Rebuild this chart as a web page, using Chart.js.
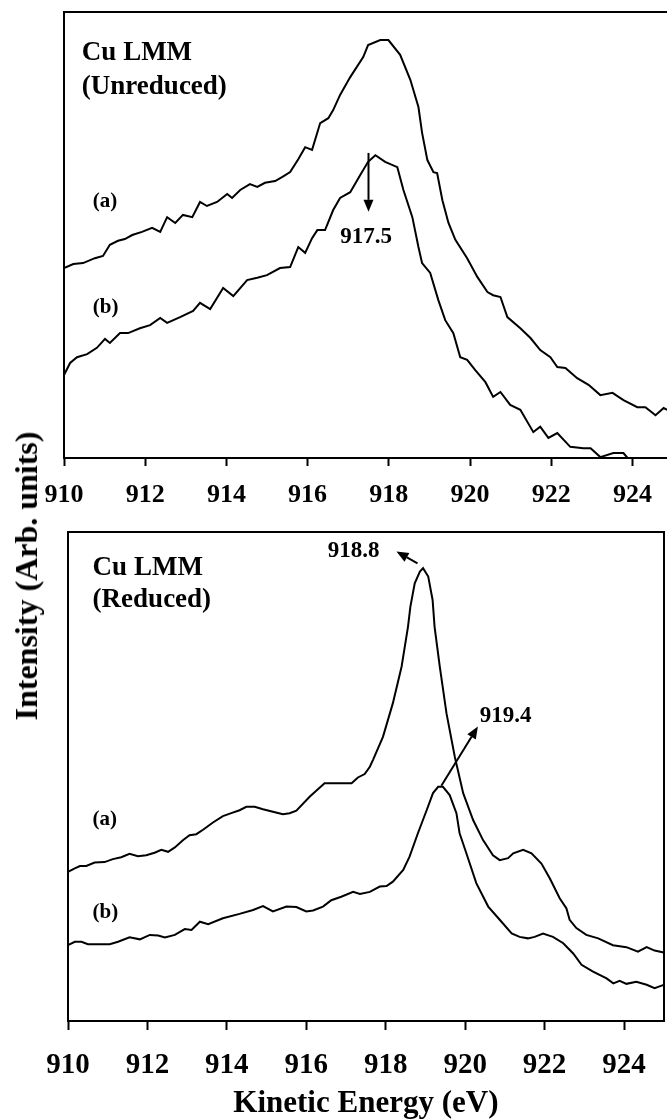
<!DOCTYPE html>
<html>
<head>
<meta charset="utf-8">
<title>Cu LMM</title>
<script src="https://cdn.jsdelivr.net/npm/chart.js@4.4.1/dist/chart.umd.min.js"></script>
<style>
  html, body { margin: 0; padding: 0; background: #fff; overflow: hidden; }
  #page { position: relative; width: 667px; height: 1119px; overflow: hidden; }
  #topWrap { position: absolute; left: 0; top: 0; }
  #botWrap { position: absolute; left: 0; top: 520px; }
  #yTitle {
    position: absolute; left: 26px; top: 576px;
    transform: translate(-50%, -50%) rotate(-90deg);
    font: bold 32px "Liberation Serif", "Times New Roman", serif;
    line-height: 1; white-space: nowrap; color: #000;
  }
</style>
</head>
<body>
<div id="page">
  <div id="topWrap"><canvas id="topChart" width="680" height="530"></canvas></div>
  <div id="botWrap"><canvas id="botChart" width="667" height="599"></canvas></div>
  <div id="yTitle">Intensity (Arb. units)</div>
</div>
<script>
// kinetic energy (eV), intensity (arb. units, 0-100 across the panel)
const unreducedA = [
  [910.00,42.6],[910.23,43.5],[910.47,43.7],[910.76,44.8],[910.96,45.3],[911.13,47.8],[911.33,48.7],
  [911.50,49.1],[911.68,50.0],[911.92,50.7],[912.17,51.6],[912.37,50.7],[912.54,54.0],[912.74,52.7],
  [912.93,54.5],[913.16,54.0],[913.35,57.4],[913.52,56.5],[913.77,57.4],[914.02,59.2],[914.14,58.3],
  [914.34,60.1],[914.58,61.4],[914.76,60.8],[914.95,61.7],[915.20,62.1],[915.37,63.0],[915.57,64.1],
  [915.77,67.0],[915.94,69.7],[916.11,69.1],[916.31,75.1],[916.51,76.2],[916.63,78.0],[916.80,81.4],
  [917.05,85.4],[917.37,89.9],[917.49,92.6],[917.79,93.7],[917.99,93.7],[918.28,90.4],[918.53,84.8],
  [918.73,78.7],[918.82,72.9],[918.95,66.8],[919.10,64.1],[919.19,63.9],[919.32,57.8],[919.47,52.7],
  [919.64,48.9],[919.93,44.8],[920.18,40.6],[920.43,37.2],[920.57,36.5],[920.75,36.1],[920.92,31.6],
  [921.24,29.1],[921.49,26.9],[921.73,24.2],[921.98,22.6],[922.15,20.4],[922.35,20.2],[922.64,17.9],
  [922.92,16.4],[923.21,14.1],[923.51,14.6],[923.78,13.0],[924.12,11.4],[924.32,11.4],[924.57,9.6],
  [924.77,11.2],[924.86,10.8],[925.00,10.4]
];
const unreducedB = [
  [910.00,18.6],[910.15,21.3],[910.32,22.6],[910.57,23.3],[910.81,24.7],[911.01,26.7],[911.13,25.8],
  [911.38,28.0],[911.58,28.0],[911.87,29.1],[912.12,29.8],[912.37,31.4],[912.54,30.3],[912.86,31.6],
  [913.18,33.0],[913.35,34.8],[913.60,33.4],[913.92,38.1],[914.17,36.3],[914.51,39.9],[914.76,40.4],
  [915.00,41.0],[915.32,42.6],[915.57,42.8],[915.77,47.3],[915.94,46.0],[916.11,49.3],[916.24,51.1],
  [916.43,51.1],[916.63,55.6],[916.80,58.3],[917.05,59.6],[917.30,63.5],[917.49,66.4],[917.67,67.9],
  [917.91,66.4],[918.21,65.2],[918.36,60.1],[918.58,54.0],[918.73,47.3],[918.82,43.7],[919.02,41.5],
  [919.22,35.4],[919.39,30.9],[919.59,28.0],[919.76,22.6],[919.93,22.0],[920.13,19.7],[920.38,17.0],
  [920.57,13.7],[920.75,14.8],[920.99,11.9],[921.24,10.8],[921.56,5.8],[921.73,7.0],[921.93,4.5],
  [922.15,5.6],[922.47,2.5],[922.79,2.2],[922.97,2.2],[923.21,0.2],[923.53,1.1],[923.78,1.1],
  [923.88,0.0],[924.20,-2.5],[924.60,-4.5],[925.00,-6.0]
];
const reducedA = [
  [910.00,30.5],[910.17,31.2],[910.30,31.7],[910.46,31.7],[910.67,32.4],[910.92,32.5],[911.13,33.1],
  [911.34,33.5],[911.55,34.2],[911.76,33.7],[911.97,33.9],[912.18,34.4],[912.35,35.0],[912.52,34.6],
  [912.69,35.5],[912.90,37.0],[913.06,38.0],[913.23,38.2],[913.40,39.1],[913.65,40.6],[913.90,41.9],
  [914.11,42.5],[914.32,43.1],[914.49,43.8],[914.70,43.8],[914.91,43.3],[915.16,42.8],[915.41,42.3],
  [915.58,42.5],[915.75,43.0],[916.09,45.9],[916.46,48.6],[916.76,48.6],[917.14,48.6],[917.30,49.8],
  [917.47,50.5],[917.60,52.0],[917.68,53.4],[917.93,58.1],[918.18,65.0],[918.40,72.5],[918.56,80.6],
  [918.62,84.7],[918.73,89.5],[918.86,91.9],[918.94,92.6],[919.07,90.9],[919.18,86.1],[919.23,80.6],
  [919.36,72.5],[919.53,62.9],[919.74,54.0],[919.95,46.6],[920.20,41.1],[920.45,37.0],[920.70,33.9],
  [920.87,32.9],[921.08,33.3],[921.21,34.3],[921.46,35.0],[921.67,34.3],[921.92,32.2],[922.13,29.2],
  [922.38,25.1],[922.55,23.0],[922.63,20.7],[922.80,19.0],[923.05,17.6],[923.35,16.9],[923.72,15.5],
  [924.06,15.1],[924.35,14.2],[924.57,15.1],[924.77,14.4],[925.00,14.0]
];
const reducedB = [
  [910.00,15.5],[910.17,16.2],[910.34,16.2],[910.50,15.7],[911.05,15.7],[911.26,16.2],[911.55,17.1],
  [911.81,16.7],[912.06,17.6],[912.27,17.5],[912.44,17.1],[912.69,17.6],[912.94,18.8],[913.11,18.6],
  [913.32,20.3],[913.53,19.8],[913.90,21.0],[914.32,21.9],[914.66,22.7],[914.91,23.5],[915.16,22.4],
  [915.50,23.4],[915.75,23.3],[916.00,22.4],[916.17,22.6],[916.42,23.4],[916.63,24.7],[916.88,25.4],
  [917.18,26.4],[917.35,26.0],[917.60,26.4],[917.85,27.5],[918.02,27.6],[918.18,28.5],[918.44,30.9],
  [918.60,33.6],[918.81,38.4],[919.03,43.1],[919.19,46.6],[919.32,47.9],[919.44,47.9],[919.61,46.2],
  [919.78,42.5],[919.86,38.4],[920.03,34.3],[920.28,28.2],[920.58,23.4],[920.87,20.7],[921.17,17.9],
  [921.37,17.2],[921.58,16.9],[921.75,17.2],[921.96,17.9],[922.21,17.2],[922.47,15.9],[922.72,13.8],
  [922.93,11.5],[923.22,10.1],[923.56,8.7],[923.73,7.7],[923.89,8.2],[924.06,7.6],[924.31,8.0],
  [924.57,7.4],[924.77,6.7],[925.00,7.4]
];

const energyRange = [910, 925];
const tickStep = 2;
const peakUnreduced = 917.5;
const peakReducedA = 918.8;
const peakReducedB = 919.4;

const SERIF = '"Liberation Serif", "Times New Roman", serif';

// text and arrows placed in data coordinates
const annotate = {
  id: 'annotate',
  afterDatasetsDraw(chart, args, opts) {
    const ctx = chart.ctx, xs = chart.scales.x, ys = chart.scales.y;
    ctx.save();
    ctx.fillStyle = '#000';
    ctx.strokeStyle = '#000';
    (opts.labels || []).forEach(l => {
      ctx.font = 'bold ' + l.size + 'px ' + SERIF;
      ctx.textAlign = l.align || 'left';
      ctx.textBaseline = 'alphabetic';
      ctx.fillText(l.text, xs.getPixelForValue(l.at[0]), ys.getPixelForValue(l.at[1]));
    });
    (opts.arrows || []).forEach(a => {
      const x0 = xs.getPixelForValue(a.from[0]), y0 = ys.getPixelForValue(a.from[1]);
      const x1 = xs.getPixelForValue(a.to[0]), y1 = ys.getPixelForValue(a.to[1]);
      const ang = Math.atan2(y1 - y0, x1 - x0);
      const head = 12, half = 5;
      const bx = x1 - head * Math.cos(ang), by = y1 - head * Math.sin(ang);
      ctx.lineWidth = 2;
      ctx.beginPath(); ctx.moveTo(x0, y0); ctx.lineTo(bx, by); ctx.stroke();
      ctx.beginPath();
      ctx.moveTo(x1, y1);
      ctx.lineTo(bx + half * Math.sin(ang), by - half * Math.cos(ang));
      ctx.lineTo(bx - half * Math.sin(ang), by + half * Math.cos(ang));
      ctx.closePath(); ctx.fill();
    });
    ctx.restore();
  }
};

function toPoints(arr) {
  return arr.map(p => ({x: p[0], y: p[1]}));
}

function trace(arr) {
  return {
    data: toPoints(arr), borderColor: '#000', borderWidth: 2,
    pointRadius: 0, tension: 0, fill: false
  };
}

// frame edges with no ticks
function edge(position) {
  const horiz = position === 'top';
  return {
    type: 'linear', position: position, display: true,
    min: horiz ? energyRange[0] : 0, max: horiz ? energyRange[1] : 100,
    ticks: {display: false},
    grid: {display: false, drawTicks: false},
    border: {display: true, color: '#000', width: 2},
    afterFit: s => { if (horiz) s.height = 0; else s.width = 0; }
  };
}

function panelOptions(p) {
  const x = {
    type: 'linear', position: 'bottom',
    min: energyRange[0], max: energyRange[1],
    ticks: {
      stepSize: tickStep, includeBounds: false, autoSkip: false, maxRotation: 0,
      color: '#000', padding: p.tickPad,
      font: {family: SERIF, size: p.tickSize, weight: 'bold', lineHeight: 1}
    },
    grid: {drawOnChartArea: false, drawTicks: true, tickLength: p.tickLen, tickWidth: 2, tickColor: '#000'},
    border: {display: true, color: '#000', width: 2},
    afterFit: s => { s.height = p.axisHeight; }
  };
  if (p.title) {
    x.title = {
      display: true, text: p.title, color: '#000',
      font: {family: SERIF, size: 31, weight: 'bold', lineHeight: 1},
      padding: {top: 0, bottom: p.titlePad}
    };
  }
  return {
    responsive: false, animation: false, devicePixelRatio: 1,
    layout: {padding: p.padding},
    scales: {
      x: x,
      xTop: edge('top'),
      y: {
        type: 'linear', position: 'left', min: 0, max: 100,
        ticks: {display: false},
        grid: {display: false, drawTicks: false},
        border: {display: true, color: '#000', width: 2},
        afterFit: s => { s.width = 0; }
      },
      yRight: edge('right')
    },
    plugins: {
      legend: {display: false},
      tooltip: {enabled: false},
      annotate: {labels: p.labels, arrows: p.arrows}
    }
  };
}

new Chart(document.getElementById('topChart'), {
  type: 'line',
  data: {datasets: [trace(unreducedA), trace(unreducedB)]},
  options: panelOptions({
    padding: {left: 64, top: 12, right: 7, bottom: 0},
    axisHeight: 72, tickSize: 26, tickPad: 16, tickLen: 8,
    labels: [
      {text: 'Cu LMM', at: [910.44, 89.2], size: 27},
      {text: '(Unreduced)', at: [910.44, 81.7], size: 27},
      {text: '(a)', at: [910.71, 56.3], size: 21},
      {text: '(b)', at: [910.71, 32.4], size: 21},
      {text: '917.5', at: [917.44, 48.2], size: 23, align: 'center'}
    ],
    arrows: [
      {from: [peakUnreduced, 68.4], to: [peakUnreduced, 55.2]}
    ]
  }),
  plugins: [annotate]
});

new Chart(document.getElementById('botChart'), {
  type: 'line',
  data: {datasets: [trace(reducedA), trace(reducedB)]},
  options: panelOptions({
    padding: {left: 68, top: 12, right: 2, bottom: 0},
    axisHeight: 98, tickSize: 29, tickPad: 21, tickLen: 9,
    title: 'Kinetic Energy (eV)', titlePad: 0,
    labels: [
      {text: 'Cu LMM', at: [910.62, 91.2], size: 27},
      {text: '(Reduced)', at: [910.62, 84.7], size: 27},
      {text: '(a)', at: [910.62, 40.1], size: 21},
      {text: '(b)', at: [910.62, 21.1], size: 21},
      {text: '918.8', at: [917.19, 94.9], size: 23, align: 'center'},
      {text: '919.4', at: [921.02, 61.2], size: 23, align: 'center'}
    ],
    arrows: [
      {from: [peakReducedA, 93.6], to: [918.27, 96.0]},
      {from: [peakReducedB, 48.1], to: [920.32, 60.2]}
    ]
  }),
  plugins: [annotate]
});
</script>
</body>
</html>
